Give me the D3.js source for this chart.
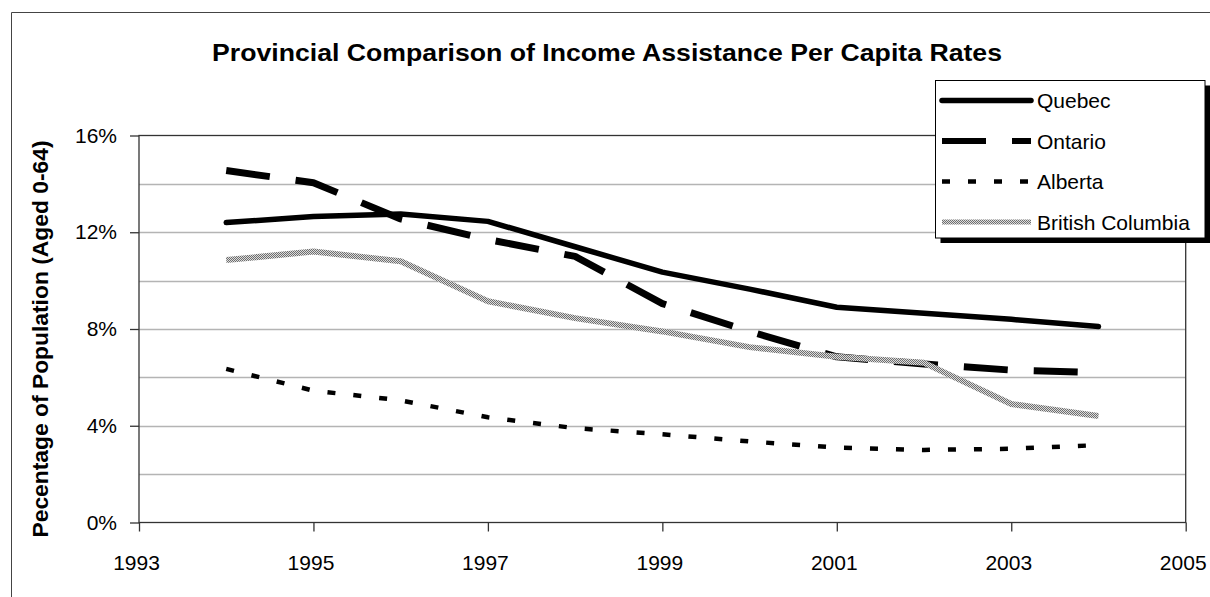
<!DOCTYPE html>
<html>
<head>
<meta charset="utf-8">
<script src="https://cdn.jsdelivr.net/npm/d3@7"></script>
<style>
  html, body { margin: 0; padding: 0; background: #fff; overflow: hidden; }
  #chart { width: 1210px; height: 597px; }
  #chart svg { display: block; }
  text { font-family: "Liberation Sans", Arial, sans-serif; fill: #000; }
</style>
</head>
<body>
<div id="chart"></div>
<script>
// Data (percent of population aged 0-64)
const years = [1994, 1995, 1996, 1997, 1998, 1999, 2000, 2001, 2002, 2003, 2004];
const quebec = [12.4, 12.65, 12.75, 12.45, 11.4, 10.35, 9.65, 8.9, 8.65, 8.4, 8.1];
const ontario = [14.55, 14.05, 12.55, 11.7, 11.0, 9.05, 7.9, 6.85, 6.55, 6.3, 6.2];
const alberta = [6.35, 5.45, 5.05, 4.35, 3.9, 3.65, 3.35, 3.1, 3.0, 3.05, 3.2];
const britishColumbia = [10.85, 11.2, 10.8, 9.15, 8.45, 7.9, 7.25, 6.85, 6.6, 4.9, 4.4];
const seriesNames = ["Quebec", "Ontario", "Alberta", "British Columbia"];
const xTicks = [1993, 1995, 1997, 1999, 2001, 2003, 2005];
const yTicks = [0, 4, 8, 12, 16];
const yGrid = [2, 4, 6, 8, 10, 12, 14];

const width = 1210;
const height = 597;
const plot = { left: 139, right: 1185.7, top: 135.5, bottom: 522.5 };

const svg = d3.select("#chart")
  .append("svg")
  .attr("width", width)
  .attr("height", height)
  .attr("viewBox", [0, 0, width, height]);

// texture for the British Columbia line
const defs = svg.append("defs");
const pat = defs.append("pattern")
  .attr("id", "bcTex")
  .attr("patternUnits", "userSpaceOnUse")
  .attr("width", 2)
  .attr("height", 2);
pat.append("rect").attr("width", 2).attr("height", 2).attr("fill", "#dcdcdc");
pat.append("rect").attr("width", 1).attr("height", 1).attr("fill", "#6e6e6e");
pat.append("rect").attr("x", 1).attr("y", 1).attr("width", 1).attr("height", 1).attr("fill", "#6e6e6e");

// outer chart frame: only the top and left edges are inside the picture
svg.append("path")
  .attr("d", `M11.5,${height} V12.5 H${width}`)
  .attr("fill", "none")
  .attr("stroke", "#444");

const x = d3.scaleLinear().domain([1993, 2005]).range([plot.left, plot.right]);
const y = d3.scaleLinear().domain([0, 16]).range([plot.bottom, plot.top]);

// gridlines
svg.append("g")
  .selectAll("line")
  .data(yGrid)
  .enter().append("line")
  .attr("x1", plot.left)
  .attr("x2", plot.right)
  .attr("y1", d => Math.round(y(d)) + 0.5)
  .attr("y2", d => Math.round(y(d)) + 0.5)
  .attr("stroke", "#b4b4b4")
  .attr("stroke-width", 1.5);

// plot area border
svg.append("rect")
  .attr("x", plot.left)
  .attr("y", plot.top)
  .attr("width", plot.right - plot.left)
  .attr("height", plot.bottom - plot.top)
  .attr("fill", "none")
  .attr("stroke", "#333")
  .attr("stroke-width", 1.3);

// axes
const yAxis = svg.append("g")
  .attr("transform", `translate(${plot.left},0)`)
  .call(d3.axisLeft(y)
    .tickValues(yTicks)
    .tickFormat(d => d + "%")
    .tickSize(9)
    .tickSizeOuter(0)
    .tickPadding(13));

const xAxis = svg.append("g")
  .attr("transform", `translate(0,${plot.bottom})`)
  .call(d3.axisBottom(x)
    .tickValues(xTicks)
    .tickFormat(d3.format("d"))
    .tickSize(9)
    .tickSizeOuter(0)
    .tickPadding(24));

[yAxis, xAxis].forEach(ax => {
  ax.select(".domain").remove();
  ax.selectAll(".tick line").attr("stroke", "#333").attr("stroke-width", 1.3);
  ax.selectAll("text")
    .style("font-family", "'Liberation Sans', Arial, sans-serif")
    .style("font-size", "21px")
    .attr("fill", "#000");
});
xAxis.selectAll("text").attr("dx", -3);

// series
const series = [
  { name: seriesNames[0], values: quebec, stroke: "#000", width: 5.5, dash: null, cap: "round" },
  { name: seriesNames[1], values: ontario, stroke: "#000", width: 7, dash: "44,26", cap: "butt" },
  { name: seriesNames[2], values: alberta, stroke: "#000", width: 4.5, dash: "8,18", cap: "butt" },
  { name: seriesNames[3], values: britishColumbia, stroke: "url(#bcTex)", width: 6, dash: null, cap: "butt" }
];

const line = d3.line()
  .x((d, i) => x(years[i]))
  .y(d => y(d));

svg.append("g")
  .selectAll("path")
  .data(series)
  .enter().append("path")
  .attr("d", d => line(d.values))
  .attr("fill", "none")
  .attr("stroke", d => d.stroke)
  .attr("stroke-width", d => d.width)
  .attr("stroke-dasharray", d => d.dash)
  .attr("stroke-linecap", d => d.cap)
  .attr("stroke-linejoin", "round");

// title
svg.append("text")
  .attr("x", 607)
  .attr("y", 61)
  .attr("text-anchor", "middle")
  .attr("textLength", 790)
  .attr("lengthAdjust", "spacingAndGlyphs")
  .style("font-size", "24px")
  .style("font-weight", "bold")
  .text("Provincial Comparison of Income Assistance Per Capita Rates");

// y axis title
svg.append("text")
  .attr("transform", "translate(48,339) rotate(-90)")
  .attr("text-anchor", "middle")
  .attr("textLength", 397)
  .attr("lengthAdjust", "spacingAndGlyphs")
  .style("font-size", "22px")
  .style("font-weight", "bold")
  .text("Pecentage of Population (Aged 0-64)");

// legend with drop shadow
const lg = { x: 935.5, y: 80.5, w: 269.5, h: 157.5 };
svg.append("rect")
  .attr("x", lg.x + 5)
  .attr("y", lg.y + 5)
  .attr("width", lg.w)
  .attr("height", lg.h)
  .attr("fill", "#000");
svg.append("rect")
  .attr("x", lg.x)
  .attr("y", lg.y)
  .attr("width", lg.w)
  .attr("height", lg.h)
  .attr("fill", "#fff")
  .attr("stroke", "#000")
  .attr("stroke-width", 1);

const item = svg.append("g")
  .selectAll("g")
  .data(series)
  .enter().append("g")
  .attr("transform", (d, i) => `translate(0,${100.5 + i * 40.5})`);

item.append("line")
  .attr("x1", 942)
  .attr("x2", 1031)
  .attr("stroke", d => d.stroke)
  .attr("stroke-width", (d, i) => i === 3 ? 5 : Math.min(d.width, 6))
  .attr("stroke-dasharray", d => d.dash)
  .attr("stroke-linecap", d => d.cap);

item.append("text")
  .attr("x", 1037)
  .attr("y", 7.5)
  .style("font-size", "21px")
  .text(d => d.name);
</script>
</body>
</html>
